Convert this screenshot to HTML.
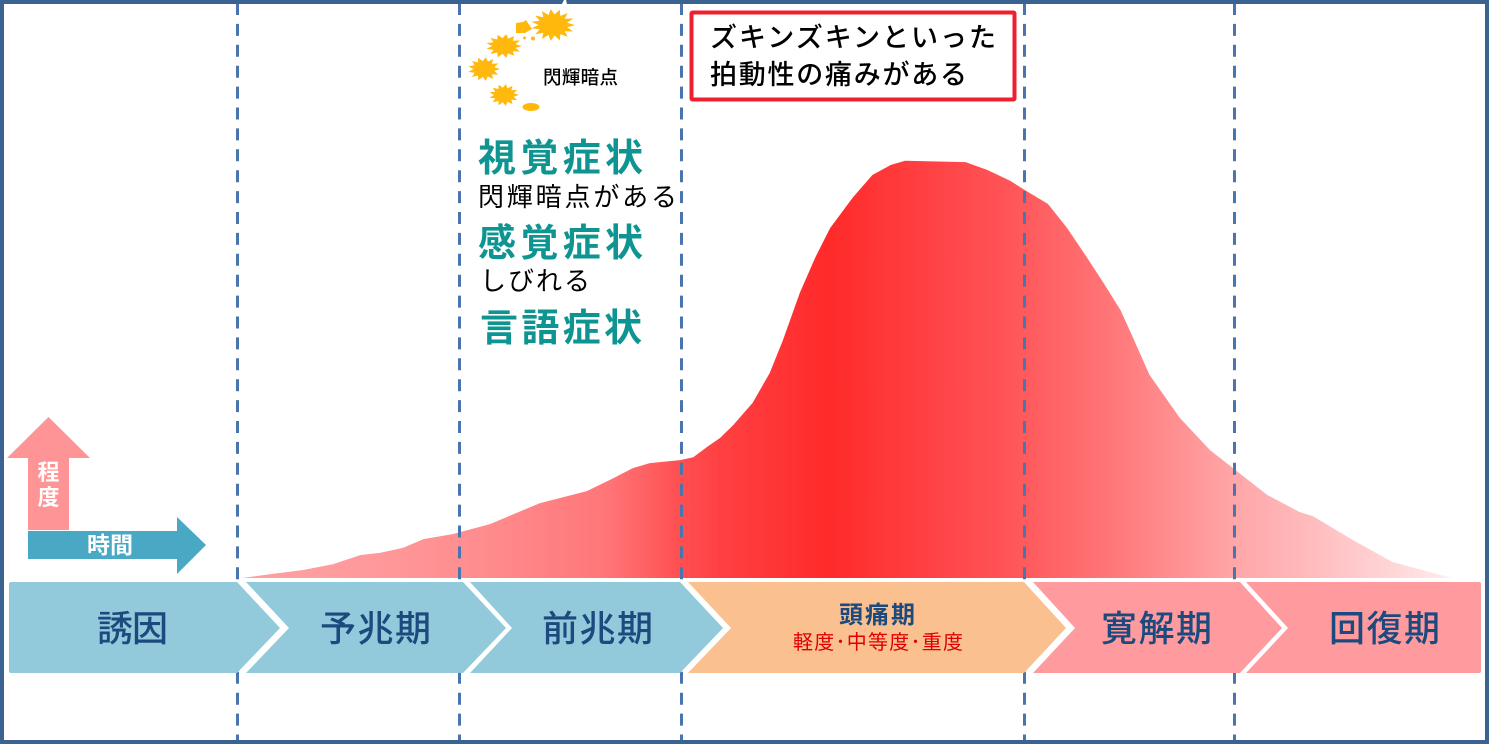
<!DOCTYPE html>
<html lang="ja">
<head>
<meta charset="utf-8">
<title>片頭痛の経過</title>
<style>
html,body{margin:0;padding:0;background:#fff;width:1489px;height:744px;overflow:hidden}
svg{display:block}
text{font-family:"Liberation Sans","Noto Sans CJK JP",sans-serif}
</style>
</head>
<body>
<svg id="chart" xmlns="http://www.w3.org/2000/svg" width="1489" height="744" viewBox="0 0 1489 744">
  <defs>
    <linearGradient id="curveFill" gradientUnits="userSpaceOnUse" x1="242" y1="0" x2="1452" y2="0">
      <stop offset="0" stop-color="#ffa0a2"/>
      <stop offset="0.1" stop-color="#ff9a9c"/>
      <stop offset="0.21" stop-color="#ff8a8c"/>
      <stop offset="0.3" stop-color="#ff7678"/>
      <stop offset="0.36" stop-color="#ff5052"/>
      <stop offset="0.395" stop-color="#ff4042"/>
      <stop offset="0.486" stop-color="#ff2a2a"/>
      <stop offset="0.626" stop-color="#ff5256"/>
      <stop offset="0.709" stop-color="#ff7274"/>
      <stop offset="0.82" stop-color="#ffa6a8"/>
      <stop offset="0.874" stop-color="#ffb8ba"/>
      <stop offset="0.957" stop-color="#ffd8da"/>
      <stop offset="1" stop-color="#ffeef0"/>
    </linearGradient>
  </defs>

  <rect x="0" y="0" width="1489" height="744" fill="#ffffff"/>

  <path id="severity-curve" fill="url(#curveFill)"/>

  <g id="phase-dividers" stroke="#4a74ad" stroke-width="3" stroke-dasharray="12 8.9" stroke-dashoffset="-3">
    <line x1="237.5" y1="0" x2="237.5" y2="744"/>
    <line x1="459.5" y1="0" x2="459.5" y2="744"/>
    <line x1="681.5" y1="0" x2="681.5" y2="744"/>
    <line x1="1024.5" y1="0" x2="1024.5" y2="744"/>
    <line x1="1234.5" y1="0" x2="1234.5" y2="744"/>
  </g>

  <g>
    <path fill="#92cadb" d="M11 582H237L280 628L237 673H11Q9 673 9 671V584Q9 582 11 582Z"/>
    <path fill="#92cadb" d="M246 582H463L506 628L463 673H246L289 628Z"/>
    <path fill="#92cadb" d="M470 582H680L723 628L680 673H470L512 628Z"/>
    <path fill="#fbc090" d="M688 582H1024L1066 628L1024 673H688L731 628Z"/>
    <path fill="#ff9b9e" d="M1033 582H1240L1282 628L1240 673H1033L1075 628Z"/>
    <path fill="#ff9b9e" d="M1246 582H1479Q1481 582 1481 584V671Q1481 673 1479 673H1246L1288 628Z"/>
  </g>

  <g fill="#1c4a7e" font-size="36" font-weight="500">
    <text x="97" y="641" textLength="71">誘因</text>
    <text x="320" y="641" textLength="111">予兆期</text>
    <text x="542" y="641" textLength="111">前兆期</text>
    <text x="1101" y="641" textLength="111">寛解期</text>
    <text x="1329" y="641" textLength="111">回復期</text>
  </g>
  <text x="839" y="623" font-size="24" font-weight="700" fill="#1c4a7e" textLength="76">頭痛期</text>
  <text x="793" y="649" font-size="20" fill="#e00000" textLength="170">軽度･中等度･重度</text>

  <g>
    <path fill="#ff9497" d="M48.500 417L90 458H69V530H28V458H7Z"/>
    <text x="48.500" y="480" font-size="22" font-weight="700" fill="#ffffff" text-anchor="middle">程</text>
    <text x="48.500" y="505" font-size="22" font-weight="700" fill="#ffffff" text-anchor="middle">度</text>
  </g>
  <g>
    <path fill="#49a8c4" d="M28 531H177V517L206 545L177 574V559H28Z"/>
    <text x="110" y="553" font-size="23" font-weight="700" fill="#ffffff" text-anchor="middle">時間</text>
  </g>

  <g id="sparkles" fill="#ffb80c"></g>
  <text x="543" y="84" font-size="18.500" font-weight="500" fill="#000000" textLength="75">閃輝暗点</text>

  <g fill="#0e9592" font-size="38" font-weight="700">
    <text x="478" y="171" textLength="165">視覚症状</text>
    <text x="478" y="256" textLength="165">感覚症状</text>
    <text x="480" y="341" textLength="162">言語症状</text>
  </g>
  <g fill="#000000" font-size="26">
    <text x="478" y="206" textLength="199">閃輝暗点がある</text>
    <text x="480" y="290" textLength="110">しびれる</text>
  </g>

  <rect x="691.500" y="12.500" width="323" height="87" fill="#ffffff" stroke="#f01f2e" stroke-width="4" rx="1"/>
  <g fill="#000000" font-size="27" font-weight="500">
    <text x="710" y="47" textLength="286">ズキンズキンといった</text>
    <text x="710" y="84" textLength="257">拍動性の痛みがある</text>
  </g>

  <rect x="2" y="2" width="1485" height="740" fill="none" stroke="#3b6290" stroke-width="4"/>
  <polygon points="562,4 564,0 566,0 567,4" fill="#ffffff"/>
</svg>

<script>
// Headache severity over the course of an attack (time and severity on a 0–100 scale)
const curveTime = [0,2.6,5.0,7.5,9.8,11.4,13.3,15.0,17.4,20.5,24.6,28.5,30.7,32.3,33.7,36.2,37.3,38.4,39.5,40.6,42.2,43.6,44.7,46.1,47.4,48.6,50.5,52.1,53.6,54.8,59.8,61.6,63.5,64.7,66.6,68.2,69.8,71.2,72.6,73.6,75.0,77.5,80.0,81.9,84.7,87.4,88.5,91.8,95.1,100];
const curveSeverity = [0,1.0,1.9,3.3,5.5,6.0,7.2,9.3,10.5,12.9,17.9,20.8,23.9,26.3,27.5,28.2,28.9,31.3,33.5,36.6,41.9,49.0,56.9,68.2,76.8,83.7,91.1,96.4,98.8,99.8,99.5,97.6,95.0,92.8,89.5,83.7,76.8,70.6,64.1,57.7,48.6,38.3,30.6,26.3,19.9,15.8,14.8,9.1,3.8,0];

const xScale = function (t) { return 242 + t * 12.1; };
const yScale = function (s) { return 578 - s * 4.18; };

(function drawCurve() {
  let d = 'M' + xScale(curveTime[0]) + ' ' + yScale(curveSeverity[0]);
  curveTime.forEach(function (t, i) {
    if (i > 0) {
      d += 'L' + xScale(t).toFixed(1) + ' ' + yScale(curveSeverity[i]).toFixed(1);
    }
  });
  d += 'Z';
  document.getElementById('severity-curve').setAttribute('d', d);
})();

(function drawSparkles() {
  const NS = 'http://www.w3.org/2000/svg';
  const group = document.getElementById('sparkles');
  // centre x, centre y, outer radius x, outer radius y, spike count
  const bursts = [
    [553, 25, 22, 16, 15],
    [504, 46, 18, 12, 13],
    [484, 69, 16, 12, 13],
    [504, 95, 15, 11, 13]
  ];
  bursts.forEach(function (b) {
    const pts = [];
    const n = b[4] * 2;
    for (let i = 0; i < n; i++) {
      const a = (i / n) * Math.PI * 2;
      const k = i % 2 === 0 ? 1 : 0.66;
      pts.push((b[0] + Math.cos(a) * b[2] * k).toFixed(1) + ',' + (b[1] + Math.sin(a) * b[3] * k).toFixed(1));
    }
    const poly = document.createElementNS(NS, 'polygon');
    poly.setAttribute('points', pts.join(' '));
    
    
    group.appendChild(poly);
  });
  const shard = document.createElementNS(NS, 'polygon');
  shard.setAttribute('points', '516,23 523,22 526,20 532,29 525,33 516,33');
  
  
  group.appendChild(shard);
  const blob = document.createElementNS(NS, 'ellipse');
  blob.setAttribute('cx', '531');
  blob.setAttribute('cy', '107');
  blob.setAttribute('rx', '8.5');
  blob.setAttribute('ry', '4');
  
  
  group.appendChild(blob);
  const dotA = document.createElementNS(NS, 'circle');
  dotA.setAttribute('cx', '524.500');
  dotA.setAttribute('cy', '38');
  dotA.setAttribute('r', '1.500');
  
  
  group.appendChild(dotA);
  const dotB = document.createElementNS(NS, 'circle');
  dotB.setAttribute('cx', '533');
  dotB.setAttribute('cy', '38.500');
  dotB.setAttribute('r', '2');
  
  
  group.appendChild(dotB);
})();
</script>
</body>
</html>
